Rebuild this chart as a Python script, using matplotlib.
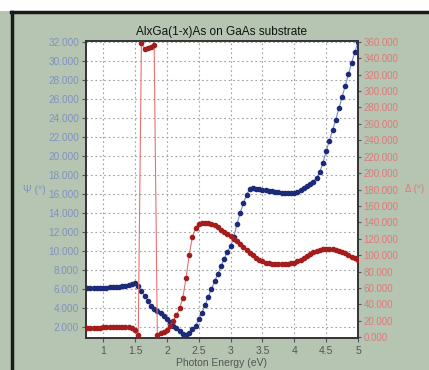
import numpy as np
import matplotlib
matplotlib.use("Agg")
import matplotlib.pyplot as plt
from matplotlib.lines import Line2D
from matplotlib.patches import Rectangle
from matplotlib.ticker import FormatStrFormatter, FixedLocator, FixedFormatter

# photon energy grid (eV)
energy = np.round(np.arange(0.75, 5.001, 0.05), 2)

# ellipsometric angle Psi (deg)
psi = [6.10, 6.10, 6.10, 6.10, 6.12, 6.13, 6.15, 6.17, 6.20, 6.22,
       6.25, 6.30, 6.35, 6.42, 6.50, 6.60, 6.30, 5.80, 5.30, 4.75,
       4.25, 3.90, 3.70, 3.50, 3.20, 2.85, 2.50, 2.15, 1.85, 1.55,
       1.30, 1.15, 1.40, 1.75, 2.10, 2.80, 3.50, 4.30, 5.20, 6.00,
       6.80, 7.60, 8.40, 9.20, 9.90, 10.50, 11.50, 12.80, 14.00, 15.00,
       15.90, 16.55, 16.60, 16.55, 16.50, 16.45, 16.40, 16.35, 16.30, 16.25,
       16.20, 16.15, 16.10, 16.08, 16.08, 16.10, 16.20, 16.45, 16.65, 16.85,
       17.05, 17.30, 17.70, 18.30, 19.30, 20.50, 21.60, 22.70, 23.80, 25.00,
       26.20, 27.40, 28.60, 29.80, 30.90, 32.00]

# ellipsometric phase Delta (deg), wraps at 0/360
delta = [11.0, 11.2, 11.4, 11.5, 11.6, 11.8, 11.9, 12.0, 12.1, 12.2,
         12.3, 12.4, 12.4, 12.3, 11.5, 8.5, 3.0, 359.0, 351.0, 352.0,
         354.0, 356.0, 3.0, 4.5, 6.0, 9.0, 14.0, 20.0, 27.0, 35.0,
         48.0, 72.0, 100.0, 122.0, 133.0, 138.0, 139.0, 139.0, 139.0, 138.5,
         137.0, 134.0, 131.0, 128.0, 126.0, 123.0, 120.0, 117.0, 114.0, 110.0,
         106.0, 103.0, 100.0, 97.0, 94.5, 92.5, 91.0, 90.0, 89.5, 89.0,
         89.0, 89.0, 89.0, 89.5, 90.0, 91.0, 92.5, 94.5, 96.5, 99.0,
         101.5, 103.5, 105.0, 106.5, 107.5, 108.0, 108.0, 107.5, 106.5, 105.0,
         103.5, 102.0, 100.0, 98.0, 96.0, 93.5]

x_ticks = [1, 1.5, 2, 2.5, 3, 3.5, 4, 4.5, 5]
x_labels = ["1", "1.5", "2", "2.5", "3", "3.5", "4", "4.5", "5"]
psi_ticks = list(range(2, 33, 2))
delta_ticks = list(range(0, 361, 20))

plt.rcParams["font.family"] = ["Liberation Sans", "DejaVu Sans"]

bg = "#b6c4b2"
fig = plt.figure(figsize=(4.29, 3.70), dpi=100, facecolor=bg)

# white strip and dark frame edge at the top/left
fig.patches.append(Rectangle((0, 1 - 11 / 370), 1, 11 / 370, transform=fig.transFigure,
                             facecolor="white", edgecolor="none", zorder=0))
fig.lines.append(Line2D([11 / 429, 1], [1 - 12 / 370, 1 - 12 / 370], transform=fig.transFigure,
                        color="#1a1a1a", linewidth=2.5))
fig.lines.append(Line2D([12 / 429, 12 / 429], [0, 1 - 12 / 370], transform=fig.transFigure,
                        color="#1a1a1a", linewidth=2.5))

ax = fig.add_axes([86 / 429, 32 / 370, 272 / 429, 297 / 370])
ax.set_facecolor("white")
ax2 = ax.twinx()

ax.plot(energy, psi, color="#7a88cc", linewidth=0.8, marker="o", markersize=3,
        markerfacecolor="#1c2a78", markeredgecolor="#1c2a78", zorder=3)
ax2.plot(energy, delta, color="#e87070", linewidth=0.8, marker="o", markersize=3,
         markerfacecolor="#a51c1c", markeredgecolor="#a51c1c", zorder=3)

ax.set_xlim(0.73, 5.0)
ax.set_ylim(0.84, 32.1)
ax2.set_ylim(-1, 361)

ax.xaxis.set_major_locator(FixedLocator(x_ticks))
ax.xaxis.set_major_formatter(FixedFormatter(x_labels))
ax.set_yticks(psi_ticks)
ax2.set_yticks(delta_ticks)
ax.yaxis.set_major_formatter(FormatStrFormatter("%.3f"))
ax2.yaxis.set_major_formatter(FormatStrFormatter("%.3f"))

ax.grid(True, color="#a0a0a0", linestyle=(0, (1.5, 2.5)), linewidth=0.8)
ax.set_axisbelow(True)

ax.tick_params(axis="x", labelsize=7.5, colors="#555555", length=3, pad=3)
ax.tick_params(axis="y", labelsize=7.2, labelcolor="#7f92bd", color="#555555", length=3, pad=2)
ax2.tick_params(axis="y", labelsize=7.0, labelcolor="#e07878", color="#555555", length=2, pad=2)

for a in (ax, ax2):
    for s in a.spines.values():
        s.set_color("#333333")
        s.set_linewidth(1.2)

ax.set_title("AlxGa(1-x)As on GaAs substrate", fontsize=8.5, color="#111111", pad=4)
ax.set_xlabel("Photon Energy (eV)", fontsize=7.5, color="#555555", labelpad=1)

fig.text(23 / 429, 1 - 190 / 370, "Ψ (°)", fontsize=7.5, color="#7f92bd", va="center", ha="left")
fig.text(405 / 429, 1 - 189 / 370, "Δ (°)", fontsize=7.0, color="#e07878", va="center", ha="left")

fig.savefig("out.png", dpi=100, facecolor=bg)
